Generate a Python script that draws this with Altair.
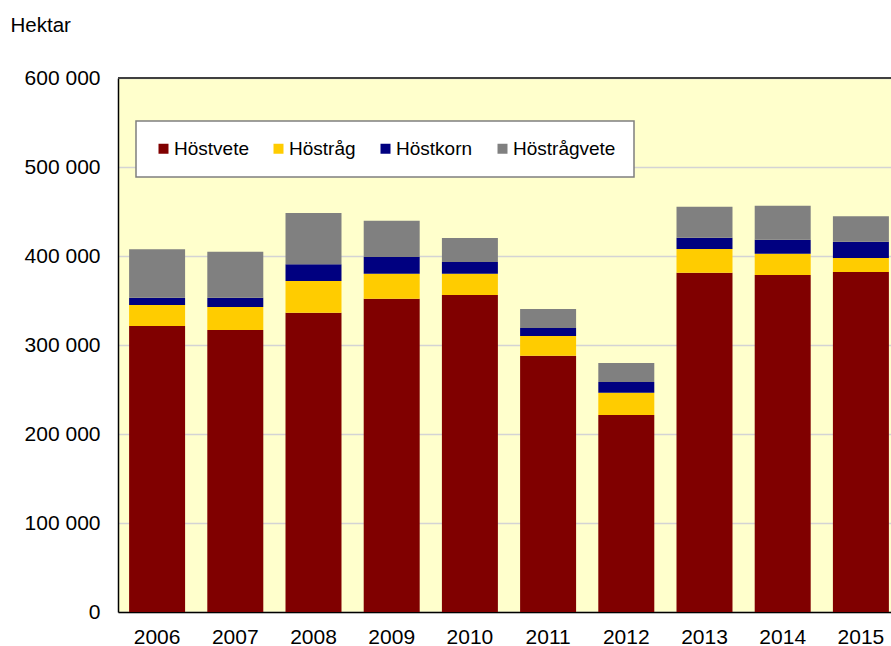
import altair as alt
import pandas as pd

years = ["2006", "2007", "2008", "2009", "2010", "2011", "2012", "2013", "2014", "2015"]
hostvete = [321300, 316900, 336300, 352000, 356200, 288000, 221300, 381300, 378700, 382000]
hostrag = [23600, 25800, 35600, 28100, 23900, 22100, 25100, 26600, 23900, 15800]
hostkorn = [8200, 10400, 18800, 18800, 13200, 9000, 12000, 12700, 15700, 18300]
hostragvete = [54400, 51700, 57600, 40800, 26900, 21300, 21400, 34800, 38200, 28500]

series = ["Höstvete", "Höstråg", "Höstkorn", "Höstrågvete"]
colors = ["#800000", "#FFCC00", "#000080", "#808080"]
y_ticks = [0, 100000, 200000, 300000, 400000, 500000, 600000]

rows = []
for idx, (name, vals) in enumerate(zip(series, [hostvete, hostrag, hostkorn, hostragvete])):
    for yr, v in zip(years, vals):
        rows.append({"År": yr, "Gröda": name, "Hektar": v, "idx": idx})
df = pd.DataFrame(rows)

FONT = "Liberation Sans"

bars = alt.Chart(df).mark_bar().encode(
    x=alt.X(
        "År:N",
        sort=years,
        scale=alt.Scale(range=[0, 782], paddingInner=0.284, paddingOuter=0.142),
        axis=alt.Axis(
            title=None, labelAngle=0, ticks=False, grid=False,
            domainColor="#000000", domainWidth=1.5,
            labelFontSize=21, labelPadding=14, labelColor="#000000", labelFont=FONT,
        ),
    ),
    y=alt.Y(
        "Hektar:Q",
        stack="zero",
        scale=alt.Scale(domain=[y_ticks[0], y_ticks[-1]], nice=False),
        axis=alt.Axis(
            values=y_ticks,
            labelExpr="datum.value == 0 ? '0' : format(datum.value / 1000, 'd') + ' 000'",
            ticks=False,
            domainColor="#000000", domainWidth=1.5,
            gridColor="#d4d4d4", gridWidth=1.5,
            labelFontSize=21, labelPadding=18, labelColor="#000000", labelFont=FONT,
            title="Hektar", titleAngle=0, titleAlign="left", titleBaseline="alphabetic",
            titleX=-108, titleY=-47, titleFontSize=20.5, titleFontWeight="normal",
            titleColor="#000000", titleFont=FONT,
        ),
    ),
    color=alt.Color(
        "Gröda:N",
        sort=series,
        scale=alt.Scale(domain=series, range=colors),
        legend=alt.Legend(
            title=None, orient="none", legendX=18, legendY=43, direction="horizontal",
            fillColor="#ffffff", strokeColor="#7f7f7f", padding=18,
            symbolType="square", symbolSize=100, symbolStrokeWidth=0,
            labelOffset=1, columnPadding=20,
            labelFontSize=19, labelColor="#000000", labelFont=FONT,
        ),
    ),
    order=alt.Order("idx:Q", sort="ascending"),
)

top_border = alt.Chart(df).mark_rule(color="#404040", strokeWidth=1.5).encode(
    y=alt.datum(y_ticks[-1])
)

chart = (
    alt.layer(bars, top_border)
    .properties(
        width=773, height=534,
        autosize=alt.AutoSizeParams(type="none"),
        padding={"left": 118, "top": 78, "right": 0, "bottom": 34},
        background="#ffffff",
    )
    .configure(font=FONT)
    .configure_view(fill="#FFFFCC", stroke="transparent", strokeWidth=0)
    .configure_legend(strokeWidth=1.5)
)

chart.save("out.html", embed_options={"renderer": "svg", "actions": False})
